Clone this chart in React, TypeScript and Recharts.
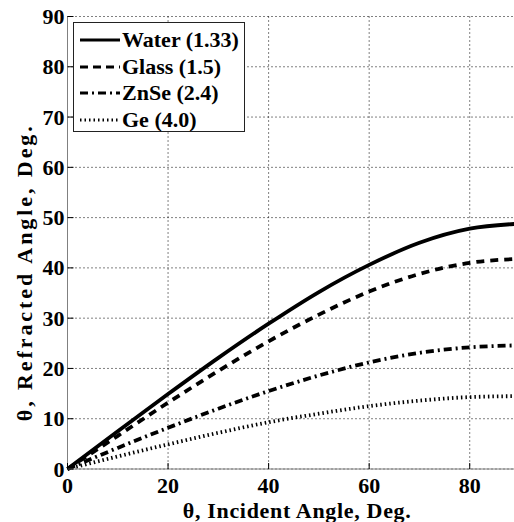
import { CartesianGrid, Label, Legend, Line, LineChart, XAxis, YAxis } from "recharts";

const incident = [0, 10, 20, 30, 40, 50, 60, 70, 80, 90];
const water = [0, 7.5, 14.9, 22.1, 28.9, 35.2, 40.6, 45.0, 47.8, 48.8];
const glass = [0, 6.6, 13.2, 19.5, 25.4, 30.7, 35.3, 38.8, 41.0, 41.8];
const znse = [0, 4.2, 8.2, 12.0, 15.5, 18.6, 21.2, 23.1, 24.2, 24.6];
const ge = [0, 2.5, 4.9, 7.2, 9.3, 11.0, 12.5, 13.6, 14.3, 14.5];

const xTicks = [0, 20, 40, 60, 80];
const yTicks = [0, 10, 20, 30, 40, 50, 60, 70, 80, 90];

const series = [
  { key: "water", name: "Water (1.33)", dash: undefined as string | undefined, legendDash: undefined as string | undefined },
  { key: "glass", name: "Glass (1.5)", dash: "8 6", legendDash: "8 5" },
  { key: "znse", name: "ZnSe (2.4)", dash: "8 4 2 4", legendDash: "8 4 2 4" },
  { key: "ge", name: "Ge (4.0)", dash: "1.5 3", legendDash: "1.5 3" },
];

const data = incident.map((x, i) => ({
  x,
  water: water[i],
  glass: glass[i],
  znse: znse[i],
  ge: ge[i],
}));

const font = "Liberation Serif, Tinos, Times New Roman, Times, Nimbus Roman, DejaVu Serif, Noto Serif, serif";

function XTick(props: any) {
  const { x, y, payload } = props;
  return (
    <g>
      <line x1={x} y1={y} x2={x} y2={y - 6} stroke="#000" />
      <text x={x} y={y + 24} textAnchor="middle" style={{ fontFamily: font }} fontWeight="bold" fontSize={22} fill="#000">
        {payload.value}
      </text>
    </g>
  );
}

function TopTick(props: any) {
  const { x, y } = props;
  return <line x1={x} y1={y} x2={x} y2={y + 6} stroke="#000" />;
}

function YTick(props: any) {
  const { x, y, payload } = props;
  return (
    <g>
      <line x1={x} y1={y} x2={x + 6} y2={y} stroke="#000" />
      <text x={x - 3} y={y + 7.5} textAnchor="end" style={{ fontFamily: font }} fontWeight="bold" fontSize={22} fill="#000">
        {payload.value}
      </text>
    </g>
  );
}

function LegendBox() {
  return (
    <div
      style={{
        border: "1px solid #222",
        background: "#fff",
        width: 172,
        height: 110,
        padding: "4px 0 0 6px",
        boxSizing: "border-box",
        fontFamily: font,
        fontWeight: "bold",
        fontSize: 22,
        color: "#000",
        whiteSpace: "nowrap",
      }}
    >
      {series.map((s) => (
        <div key={s.key} style={{ display: "flex", alignItems: "center", height: 26.5 }}>
          <svg width={40} height={10} style={{ marginRight: 2 }}>
            <line x1={0} y1={5} x2={40} y2={5} stroke="#000" strokeWidth={3} strokeDasharray={s.legendDash} />
          </svg>
          <span style={{ lineHeight: "22px" }}>{s.name}</span>
        </div>
      ))}
    </div>
  );
}

export default function App() {
  return (
    <div style={{ position: "absolute", left: 0, top: 0, width: 514, height: 522, overflow: "hidden", background: "#fff" }}>
      <LineChart width={530} height={522} data={data} margin={{ top: 16.5, right: 10, bottom: 0, left: 0 }}>
        <CartesianGrid stroke="#000" strokeDasharray="1 3" />
        <XAxis
          dataKey="x"
          type="number"
          domain={[0, 90]}
          ticks={xTicks}
          height={53}
          tickSize={0}
          tickMargin={0}
          tickLine={false}
          tick={<XTick />}
          stroke="#808080"
          interval={0}
        >
          <Label
            content={(p: any) => {
              const vb = p.viewBox;
              return (
                <text
                  x={vb.x + vb.width / 2 + 3}
                  y={vb.y + 49}
                  textAnchor="middle"
                  style={{ fontFamily: font }}
                  fontWeight="bold"
                  fontSize={22}
                  fill="#000"
                  textLength={228}
                  lengthAdjust="spacing"
                >
                  θ, Incident Angle, Deg.
                </text>
              );
            }}
          />
        </XAxis>
        <XAxis
          xAxisId="top"
          orientation="top"
          type="number"
          domain={[0, 90]}
          ticks={xTicks}
          height={0}
          tickSize={0}
          tickLine={false}
          tick={<TopTick />}
          stroke="#808080"
          interval={0}
        />
        <YAxis
          type="number"
          domain={[0, 90]}
          ticks={yTicks}
          width={67.5}
          tickSize={0}
          tickMargin={0}
          tickLine={false}
          tick={<YTick />}
          stroke="#808080"
          interval={0}
        >
          <Label
            content={(p: any) => {
              const vb = p.viewBox;
              const cx = vb.x + 32;
              const cy = vb.y + vb.height / 2 + 31;
              return (
                <text
                  x={cx}
                  y={cy}
                  textAnchor="middle"
                  style={{ fontFamily: font }}
                  fontWeight="bold"
                  fontSize={22}
                  fill="#000"
                  textLength={295}
                  lengthAdjust="spacing"
                  transform={`rotate(-90, ${cx}, ${cy})`}
                >
                  θ, Refracted Angle, Deg.
                </text>
              );
            }}
          />
        </YAxis>
        <Legend
          layout="vertical"
          align="center"
          verticalAlign="middle"
          content={<LegendBox />}
          wrapperStyle={{ left: 73, top: 22, width: 172 }}
        />
        {series.map((s) => (
          <Line
            key={s.key}
            dataKey={s.key}
            name={s.name}
            type="monotone"
            stroke="#000"
            strokeWidth={3.8}
            strokeDasharray={s.dash}
            dot={false}
            activeDot={false}
            isAnimationActive={false}
          />
        ))}
      </LineChart>
    </div>
  );
}
